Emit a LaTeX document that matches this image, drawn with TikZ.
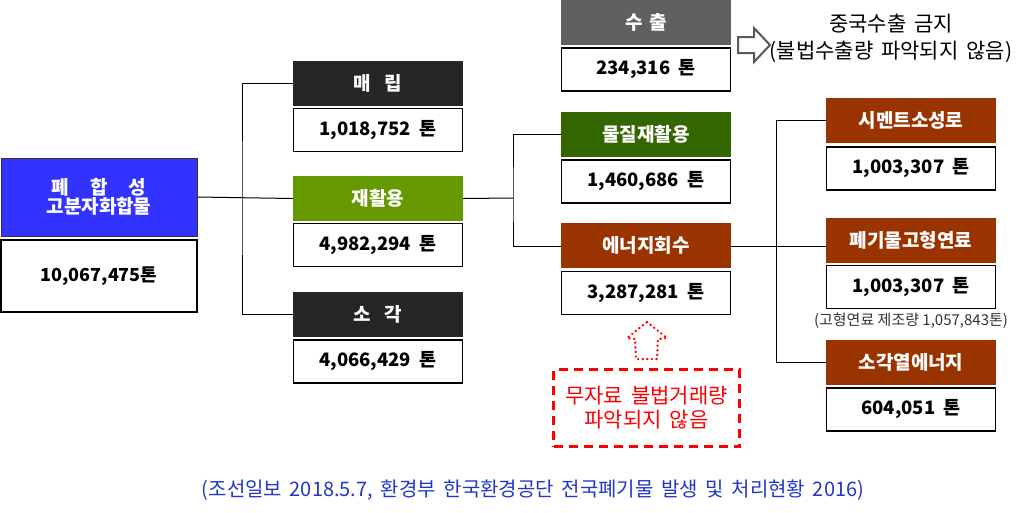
\documentclass[tikz,border=0pt]{standalone}
\usepackage{fontspec}
\setmainfont{Noto Sans CJK KR}
\newfontfamily\widefont[WordSpace=1.7]{Noto Sans CJK KR}
\usetikzlibrary{positioning}
\definecolor{cblue}{HTML}{3333FF}
\definecolor{cdark}{HTML}{262626}
\definecolor{cgreen}{HTML}{669900}
\definecolor{cdgreen}{HTML}{336600}
\definecolor{cbrown}{HTML}{993300}
\definecolor{cgray}{HTML}{606060}
\definecolor{cred}{HTML}{FF0000}
\definecolor{ccap}{HTML}{2236C8}
\newcommand{\tonsp}{\hspace{0.45em}}
\tikzset{
  x=1pt,y=-1pt,
  headbox/.style={minimum width=170pt,minimum height=45pt,inner sep=0pt,text=white,font=\fontsize{19}{22}\selectfont\bfseries},
  valbox/.style={draw=black,line width=1.3pt,fill=white,minimum width=169pt,minimum height=43pt,inner sep=0pt,font=\fontsize{18.5}{22}\selectfont\bfseries},
  link/.style={draw=black,line width=1pt},
}
\begin{document}
\begin{tikzpicture}
\useasboundingbox (0,0) rectangle (1024,512);
% left column
\node[headbox,fill=cblue,draw=black!80,line width=1pt,minimum width=196pt,minimum height=78pt,align=center] (blue) at (99,197) {폐\hspace{1.1em}합\hspace{1.1em}성\\[-3pt]고분자화합물};
\node[valbox,minimum width=196pt,minimum height=72pt,font=\fontsize{18}{22}\selectfont\bfseries] (blueval) at (99,276) {10,067,475톤};
% second column
\node[headbox,fill=cdark] (maerip) at (378,83) {매\hspace{0.7em}립};
\node[valbox] (maeripval) at (378,130) {1,018,752\tonsp 톤};
\node[headbox,fill=cgreen] (recyc) at (378,198.5) {재활용};
\node[valbox] (recycval) at (378,245) {4,982,294\tonsp 톤};
\node[headbox,fill=cdark] (sogak) at (378,314.5) {소\hspace{0.7em}각};
\node[valbox] (sogakval) at (378,361.5) {4,066,429\tonsp 톤};
% third column
\node[headbox,fill=cgray] (export) at (646,22) {수\hspace{0.35em}출};
\node[valbox] (exportval) at (646,69.5) {234,316\tonsp 톤};
\node[headbox,fill=cdgreen] (mat) at (646,134.5) {물질재활용};
\node[valbox] (matval) at (646,181.5) {1,460,686\tonsp 톤};
\node[headbox,fill=cbrown] (energy) at (646,245.5) {에너지회수};
\node[valbox] (energyval) at (646,293) {3,287,281\tonsp 톤};
% fourth column
\node[headbox,fill=cbrown] (cement) at (911,120.5) {시멘트소성로};
\node[valbox] (cementval) at (911,168.5) {1,003,307\tonsp 톤};
\node[headbox,fill=cbrown] (fuel) at (911,240) {폐기물고형연료};
\node[valbox] (fuelval) at (911,287) {1,003,307\tonsp 톤};
\node[font=\fontsize{15}{17}\selectfont,text=black!80,inner sep=0pt] (fuelnote) at (911,321) {(고형연료 제조량 1,057,843톤)};
\node[headbox,fill=cbrown] (heat) at (911,362) {소각열에너지};
\node[valbox] (heatval) at (911,409.5) {604,051\tonsp 톤};
% connectors
\coordinate (j1) at (242,197);
\coordinate (j2) at (513,198);
\coordinate (j3) at (776,246);
\draw[link] (blue.east) -- (recyc.west);
\draw[link] (maerip.west) -| (j1) |- (sogak.west);
\draw[link] (recyc.east) -- (j2);
\draw[link] (mat.west) -| (j2) |- (energy.west |- j3);
\draw[link] (energy.east |- j3) -- (j3 -| fuel.west);
\draw[link] (cement.west) -| (j3) |- (heat.west);
% hollow arrow and note
\node[font=\widefont\fontsize{21}{27}\selectfont,align=center,inner sep=0pt] (china) at (891,38) {중국수출 금지\\(불법수출량 파악되지 않음)};
\draw[draw=black!65,line width=2pt,fill=white,line join=miter]
  (738,37) -- (754,37) -- (754,28) -- (770,45) -- (754,62) -- (754,53) -- (738,53) -- cycle;
% red dotted up arrow
\draw[cred,line width=2.6pt,dash pattern=on 0pt off 4.6pt,line cap=round]
  (647,322) -- (667,338) -- (658,339) -- (657,359) -- (636,359) -- (635,339) -- (627,338) -- cycle;
% red dashed box
\node[draw=cred,line width=2.5pt,dash pattern=on 9pt off 6pt,minimum width=186pt,minimum height=77pt,align=center,text=cred,font=\widefont\fontsize{21}{24}\selectfont] (illegal) at (646.5,408) {무자료 불법거래량\\파악되지 않음};
% caption
\node[text=ccap,font=\widefont\fontsize{20}{22}\selectfont,inner sep=0pt] (caption) at (533,490) {(조선일보 2018.5.7, 환경부 한국환경공단 전국폐기물 발생 및 처리현황 2016)};
\end{tikzpicture}
\end{document}
